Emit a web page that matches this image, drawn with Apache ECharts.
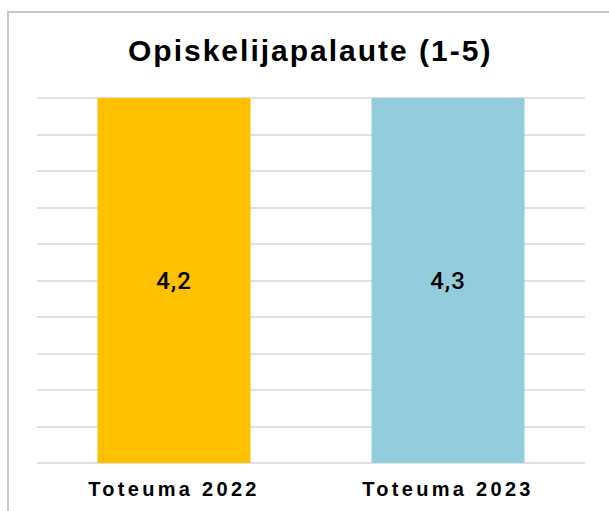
<!DOCTYPE html>
<html>
<head>
<meta charset="utf-8">
<script src="https://cdn.jsdelivr.net/npm/echarts@6/dist/echarts.min.js"></script>
<style>
  html, body { margin: 0; padding: 0; background: #fff; }
  #chart { width: 609px; height: 511px; }
</style>
</head>
<body>
<div id="chart"></div>
<script>
'use strict';

// data
let categories = ['Toteuma 2022', 'Toteuma 2023'];
let values = [4.2, 4.3];
let barColors = ['#FFC000', '#93CDDD'];
let titleText = 'Opiskelijapalaute (1-5)';

let chart = echarts.init(document.getElementById('chart'), null, { renderer: 'svg' });

let option = {
    animation: false,
    title: {
        text: titleText,
        left: 123,
        top: 30,
        textStyle: {
            fontFamily: 'Liberation Sans',
            fontSize: 30,
            fontWeight: 'bold',
            color: '#000'
        }
    },
    graphic: [{
        type: 'rect',
        shape: { x: 8, y: 12, width: 700, height: 600 },
        style: { fill: 'none', stroke: '#c6c6c6', lineWidth: 2 },
        silent: true
    }],
    grid: { left: 37, right: 24, top: 98, bottom: 48 },
    xAxis: {
        type: 'category',
        data: categories,
        axisLine: { show: false },
        axisTick: { show: false },
        axisLabel: {
            margin: 16,
            fontFamily: 'Liberation Sans',
            fontSize: 20,
            fontWeight: 'bold',
            color: '#000'
        }
    },
    yAxis: {
        type: 'value',
        min: 0,
        max: 4,
        interval: 0.4,
        axisLabel: { show: false },
        axisLine: { show: false },
        axisTick: { show: false },
        splitLine: { lineStyle: { color: '#d9d9d9', width: 1.5 } }
    },
    series: [{
        type: 'bar',
        barWidth: 153,
        clip: true,
        data: values.map((v, i) => ({ value: v, itemStyle: { color: barColors[i] } })),
        label: {
            show: true,
            position: 'inside',
            fontFamily: 'Roboto',
            fontSize: 24,
            fontWeight: 500,
            color: '#000',
            formatter: p => String(p.value).replace('.', ',')
        }
    }]
};

chart.setOption(option);

// letter spacing like the original (svg text)
let spaceOut = function () {
    document.querySelectorAll('#chart svg text').forEach(t => {
        let fs = parseFloat(getComputedStyle(t).fontSize);
        if (fs >= 28) t.style.letterSpacing = '2px';
        else if (fs >= 19 && fs < 22) t.style.letterSpacing = '3.3px';
        else t.style.letterSpacing = '1px';
    });
};
chart.on('finished', spaceOut);
spaceOut();
</script>
</body>
</html>
